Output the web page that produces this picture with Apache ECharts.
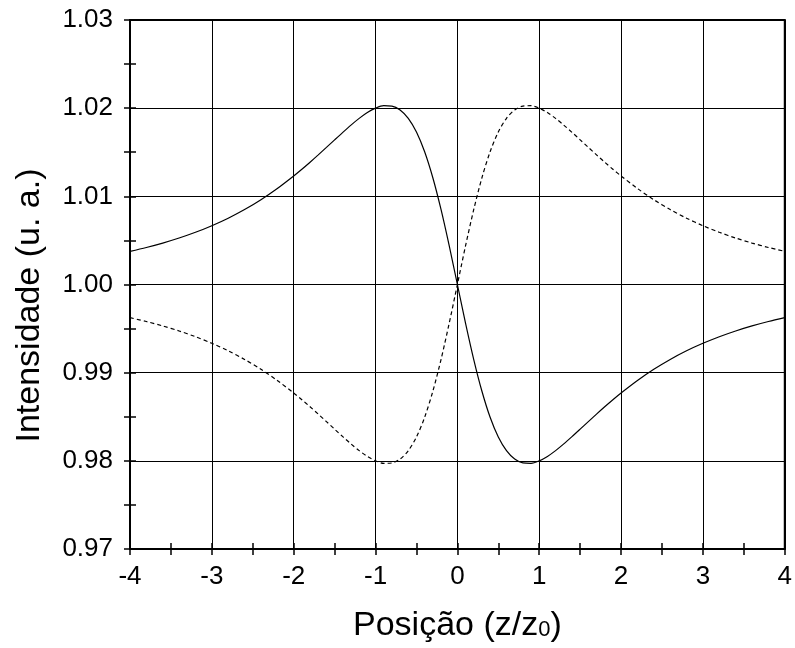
<!DOCTYPE html>
<html><head><meta charset="utf-8">
<script src="https://cdn.jsdelivr.net/npm/echarts@6/dist/echarts.min.js"></script>
<style>html,body{margin:0;padding:0;background:#fff}#c{width:795px;height:648px}</style>
</head><body><div id="c"></div>
<script>
const xPos = [-4,-3.8,-3.6,-3.4,-3.2,-3,-2.8,-2.6,-2.4,-2.2,-2,-1.9,-1.8,-1.7,-1.6,-1.5,-1.4,-1.3,-1.2,-1.1,-1,-0.9,-0.8,-0.7,-0.6,-0.5,-0.4,-0.3,-0.2,-0.1,0,0.1,0.2,0.3,0.4,0.5,0.6,0.7,0.8,0.9,1,1.1,1.2,1.3,1.4,1.5,1.6,1.7,1.8,1.9,2,2.2,2.4,2.6,2.8,3,3.2,3.4,3.6,3.8,4];
const solidY = [1.00376,1.00420,1.00470,1.00527,1.00592,1.00667,1.00752,1.00850,1.00962,1.01089,1.01231,1.01307,1.01387,1.01470,1.01555,1.01641,1.01726,1.01808,1.01884,1.01950,1.02000,1.02028,1.02024,1.01980,1.01885,1.01730,1.01506,1.01211,1.00851,1.00440,1.00000,0.99560,0.99149,0.98789,0.98494,0.98270,0.98115,0.98020,0.97976,0.97972,0.98000,0.98050,0.98116,0.98192,0.98274,0.98359,0.98445,0.98530,0.98613,0.98693,0.98769,0.98911,0.99038,0.99150,0.99248,0.99333,0.99408,0.99473,0.99530,0.99580,0.99624];
const dashedY = [0.99624,0.99580,0.99530,0.99473,0.99408,0.99333,0.99248,0.99150,0.99038,0.98911,0.98769,0.98693,0.98613,0.98530,0.98445,0.98359,0.98274,0.98192,0.98116,0.98050,0.98000,0.97972,0.97976,0.98020,0.98115,0.98270,0.98494,0.98789,0.99149,0.99560,1.00000,1.00440,1.00851,1.01211,1.01506,1.01730,1.01885,1.01980,1.02024,1.02028,1.02000,1.01950,1.01884,1.01808,1.01726,1.01641,1.01555,1.01470,1.01387,1.01307,1.01231,1.01089,1.00962,1.00850,1.00752,1.00667,1.00592,1.00527,1.00470,1.00420,1.00376];
const xTicks = [-4,-3,-2,-1,0,1,2,3,4];
const yTicks = ['0.97','0.98','0.99','1.00','1.01','1.02','1.03'];

const font = 'Liberation Sans, Arial, sans-serif';
const chart = echarts.init(document.getElementById('c'), null, {renderer:'canvas'});
const baseX = {type:'value', min:-4, max:4, interval:1, position:'bottom'};
const baseY = {type:'value', min:0.97, max:1.03, interval:0.01, position:'left'};
chart.setOption({
  animation:false,
  backgroundColor:'#fff',
  grid:{left:130, right:10, top:20, bottom:98, show:true, borderColor:'#000', borderWidth:2, backgroundColor:'transparent'},
  xAxis:[
    Object.assign({}, baseX, {
      name:'{a|Posição (z/z}{s|0}{a|)}', nameLocation:'middle', nameGap:60,
      nameTextStyle:{rich:{a:{fontFamily:font, fontSize:34, color:'#000'}, s:{fontFamily:font, fontSize:22, color:'#000', padding:[8,0,0,0]}}},
      axisLine:{show:true, onZero:false, lineStyle:{color:'#000', width:2}},
      axisTick:{show:true, inside:false, length:6, lineStyle:{color:'#000', width:1.5}},
      minorTick:{show:true, splitNumber:2, length:6, lineStyle:{color:'#000', width:1.5}},
      axisLabel:{fontFamily:font, fontSize:26, color:'#000', margin:15, formatter:v=>xTicks.includes(v)?String(v):''},
      splitLine:{show:true, lineStyle:{color:'#000', width:1}}
    }),
    Object.assign({}, baseX, {
      axisLine:{show:false, onZero:false},
      axisTick:{show:true, inside:true, length:6, lineStyle:{color:'#000', width:1.5}},
      minorTick:{show:true, splitNumber:2, length:6, lineStyle:{color:'#000', width:1.5}},
      axisLabel:{show:false}, splitLine:{show:false}
    })
  ],
  yAxis:[
    Object.assign({}, baseY, {
      name:'Intensidade (u. a.)', nameLocation:'middle', nameGap:83,
      nameTextStyle:{fontFamily:font, fontSize:34, color:'#000', padding:[0,42,0,0]},
      axisLine:{show:true, onZero:false, lineStyle:{color:'#000', width:2}},
      axisTick:{show:true, inside:false, length:6, lineStyle:{color:'#000', width:1.5}},
      minorTick:{show:true, splitNumber:2, length:6, lineStyle:{color:'#000', width:1.5}},
      axisLabel:{fontFamily:font, fontSize:26, color:'#000', margin:17, formatter:v=>{const s=v.toFixed(2);return yTicks.includes(s)?s:'';}},
      splitLine:{show:true, lineStyle:{color:'#000', width:1}}
    }),
    Object.assign({}, baseY, {
      axisLine:{show:false, onZero:false},
      axisTick:{show:true, inside:true, length:6, lineStyle:{color:'#000', width:1.5}},
      minorTick:{show:true, splitNumber:2, length:6, lineStyle:{color:'#000', width:1.5}},
      axisLabel:{show:false}, splitLine:{show:false}
    })
  ],
  series:[
    {type:'line', xAxisIndex:0, yAxisIndex:0, showSymbol:false, smooth:0.3, data:xPos.map((x,i)=>[x,solidY[i]]), lineStyle:{color:'#000', width:1.2, type:'solid'}},
    {type:'line', xAxisIndex:0, yAxisIndex:0, showSymbol:false, smooth:0.3, data:xPos.map((x,i)=>[x,dashedY[i]]), lineStyle:{color:'#000', width:1.2, type:[4,3]}}
  ]
});
</script></body></html>
